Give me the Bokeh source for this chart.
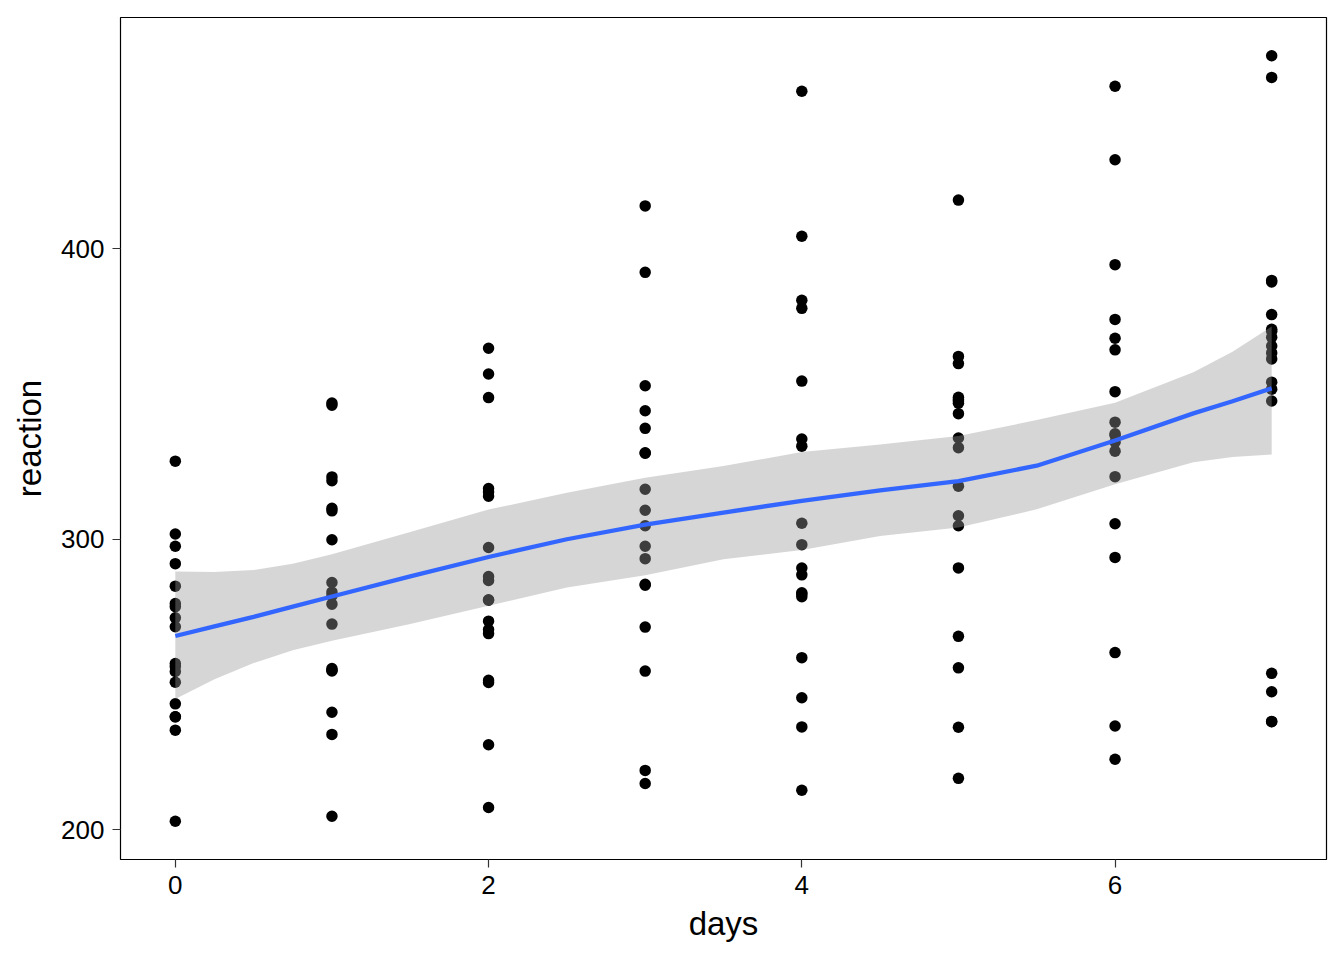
from bokeh.plotting import figure
from bokeh.models import FixedTicker, Range1d
from bokeh.embed import file_html
from bokeh.resources import INLINE

# sleep deprivation reaction times, by day (18 subjects each)
day_values = [0, 1, 2, 3, 4, 5, 6, 7]
reaction_day0 = [250.8006, 202.9778, 234.3200, 283.8565, 301.8206, 272.9613, 276.7693, 243.3647, 254.4907,
                 291.6112, 238.9256, 256.2046, 269.8939, 326.8785, 257.2424, 238.9008, 277.8989, 297.5968]
reaction_day1 = [321.4398, 204.7070, 232.8416, 285.1330, 320.1153, 309.7688, 299.8097, 254.6723, 270.8021,
                 346.1222, 254.9220, 255.5271, 280.5891, 346.8555, 277.6566, 240.4730, 281.7895, 310.6316]
reaction_day2 = [356.8519, 207.7161, 229.3074, 285.7973, 316.2773, 317.4629, 297.1710, 279.0244, 251.4519,
                 365.7324, 250.7103, 268.9165, 271.8274, 348.7402, 314.8222, 267.5373, 279.1705, 287.1726]
reaction_day3 = [414.6901, 215.9618, 220.4579, 297.5855, 293.3187, 309.9976, 338.1665, 284.1912, 254.6362,
                 391.8385, 269.7744, 329.7247, 304.6336, 352.8287, 317.2135, 344.1937, 284.5120, 329.6076]
reaction_day4 = [382.2038, 213.6303, 235.4208, 280.2396, 290.0750, 454.1619, 332.0265, 305.5248, 245.4523,
                 404.2601, 281.5648, 379.4445, 287.7466, 354.4266, 298.1353, 281.1481, 259.2658, 334.4818]
reaction_day5 = [290.1486, 217.7272, 255.7511, 318.2613, 334.8177, 346.8311, 348.8399, 331.5229, 235.3110,
                 416.6923, 308.1020, 362.9184, 266.5955, 360.4326, 348.1229, 347.5855, 304.6306, 343.2199]
reaction_day6 = [430.5853, 224.2957, 261.0125, 305.3495, 293.7469, 330.3003, 333.3600, 335.7469, 235.7541,
                 455.8643, 336.2806, 394.4872, 321.5418, 375.6406, 340.2800, 365.1630, 350.7807, 369.1417]
reaction_day7 = [466.3535, 237.3142, 247.5153, 354.0487, 371.5811, 253.8644, 362.0428, 377.2990, 237.2466,
                 458.9167, 351.6451, 389.0527, 347.5655, 388.5417, 366.5131, 372.2288, 369.4692, 364.1236]

# smoothed trend and its 95% band
smooth_x = [0, 0.25, 0.5, 0.75, 1, 1.5, 2, 2.5, 3, 3.5, 4, 4.5, 5, 5.5, 6, 6.5, 6.75, 7]
smooth_fit = [266.7, 270.0, 273.3, 276.8, 280.3, 287.2, 293.9, 300.0, 305.0, 309.2, 313.2, 316.8, 320.0, 325.3,
              334.0, 343.3, 347.5, 351.9]
smooth_upper = [288.9, 288.7, 289.4, 291.6, 294.8, 302.5, 310.2, 316.0, 321.2, 325.2, 330.0, 332.6, 335.5, 341.0,
                347.0, 357.5, 364.5, 373.2]
smooth_lower = [245.0, 251.8, 257.4, 261.8, 265.1, 270.8, 277.1, 283.4, 287.6, 293.1, 296.3, 301.1, 304.0, 310.3,
                318.9, 326.5, 328.3, 329.2]

x_ticks = [0, 2, 4, 6]
y_ticks = [200, 300, 400]

all_days = [d for d, vals in zip(day_values,
            [reaction_day0, reaction_day1, reaction_day2, reaction_day3,
             reaction_day4, reaction_day5, reaction_day6, reaction_day7]) for _ in vals]
all_reaction = (reaction_day0 + reaction_day1 + reaction_day2 + reaction_day3 +
                reaction_day4 + reaction_day5 + reaction_day6 + reaction_day7)

xmin, xmax = min(all_days), max(all_days)
ymin, ymax = min(all_reaction), max(all_reaction)
xpad = (xmax - xmin) * 0.05
ypad = (ymax - ymin) * 0.05

p = figure(width=1340, height=956, output_backend="svg", toolbar_location=None,
           x_range=Range1d(xmin - xpad, xmax + xpad), y_range=Range1d(ymin - ypad, ymax + ypad),
           min_border_left=120, min_border_right=14, min_border_top=17, min_border_bottom=97)

p.background_fill_color = "white"
p.border_fill_color = "white"
p.outline_line_color = "black"
p.outline_line_width = 1.2
p.xgrid.visible = False
p.ygrid.visible = False

p.scatter(all_days, all_reaction, size=11.5, color="black", line_color=None)
p.varea(x=smooth_x, y1=smooth_lower, y2=smooth_upper, fill_color="#999999", fill_alpha=0.4)
p.line(smooth_x, smooth_fit, line_color="#3366FF", line_width=4.3)

font = "Liberation Sans"
for ax in (p.xaxis[0], p.yaxis[0]):
    ax.axis_line_color = None
    ax.major_tick_in = 0
    ax.major_tick_out = 8
    ax.major_tick_line_color = "#333333"
    ax.major_tick_line_width = 1.2
    ax.minor_tick_line_color = None
    ax.major_label_text_font = font
    ax.major_label_text_font_size = "26px"
    ax.major_label_text_color = "black"
    ax.axis_label_text_font = font
    ax.axis_label_text_font_size = "33px"
    ax.axis_label_text_font_style = "normal"
    ax.axis_label_text_color = "black"

p.xaxis[0].ticker = FixedTicker(ticks=x_ticks)
p.yaxis[0].ticker = FixedTicker(ticks=y_ticks)
p.xaxis[0].axis_label = "days"
p.yaxis[0].axis_label = "reaction"
p.xaxis[0].major_label_standoff = 8
p.yaxis[0].major_label_standoff = 8
p.xaxis[0].axis_label_standoff = 8
p.yaxis[0].axis_label_standoff = 10

open("out.html", "w").write(file_html(p, INLINE))
